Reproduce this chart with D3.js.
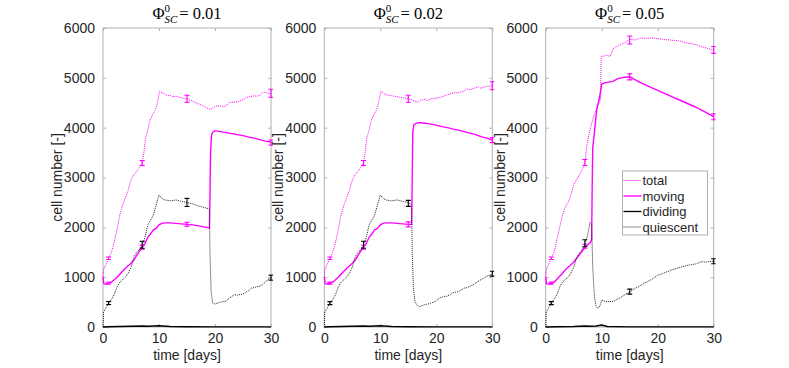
<!DOCTYPE html>
<html>
<head>
<meta charset="utf-8">
<script src="https://cdn.jsdelivr.net/npm/d3@7"></script>
<style>
  body { margin: 0; background: #fff; }
  svg { display: block; }
  text { font-family: "Liberation Sans", Arial, sans-serif; fill: #262626; }
</style>
</head>
<body>
<div id="chart"></div>
<script>
// values, [time in days, cell number]
var phiLabels = ["0.01", "0.02", "0.05"];
var xTicks = [0, 10, 20, 30];
var yTicks = [0, 1000, 2000, 3000, 4000, 5000, 6000];
var seriesNames = ["total", "moving", "dividing", "quiescent"];

var earlyTotal = [[0,1000],[0.1,1150],[0.5,1250],[1,1380],[1.5,1500],[2,1700],[2.5,1950],[3,2250],[3.5,2450],[4,2600],[4.5,2750],[5,2950],[5.5,3050],[6,3120],[6.5,3200],[7,3290],[7.3,3500],[7.6,3800],[8,3950],[8.4,4150],[8.8,4250],[9.3,4350],[9.6,4450],[10.1,4730]];
var earlyMoving = [[0,1000],[0.15,870],[0.5,860],[1,880],[1.5,900],[2,950],[2.5,1000],[3,1060],[3.5,1120],[4,1180],[4.5,1230],[5,1280],[5.5,1340],[6,1430],[6.5,1520],[7,1600],[7.5,1680],[8,1800],[8.5,1870],[9,1950],[9.5,1980],[10,2050],[10.5,2080],[11,2090],[12,2090],[13,2080],[14,2070],[15,2060]];
var earlyQuiesc = [[0,0],[0.1,300],[0.5,380],[1,480],[1.5,550],[2,650],[2.5,800],[3,900],[3.5,950],[4,1000],[4.5,1080],[5,1200],[5.5,1400],[6,1500],[6.5,1550],[7,1650],[7.5,1800],[8,2050],[8.5,2150],[9,2250],[9.5,2450],[10,2650],[10.5,2580],[11,2550],[12,2530],[13,2550],[14,2520],[15,2500]];

var total1 = earlyTotal.concat([[10.5,4700],[11,4680],[11.5,4640],[12,4650],[12.5,4620],[13,4630],[14,4600],[15,4580],[16,4530],[17,4480],[18,4430],[19,4370],[19.5,4380],[20,4430],[21,4440],[21.5,4420],[22,4440],[22.5,4500],[23,4510],[24,4520],[25,4560],[25.5,4600],[26,4620],[27,4640],[27.5,4630],[28,4650],[28.5,4700],[29,4710],[29.5,4680],[30,4690]]);
var moving1 = earlyMoving.concat([[16,2050],[17,2030],[18,2010],[19,1990],[19.1,2600],[19.2,3500],[19.4,3870],[19.7,3920],[20,3940],[21,3920],[22,3900],[23,3880],[24,3860],[25,3840],[26,3810],[27,3790],[28,3760],[29,3730],[30,3710]]);
var quiesc1 = earlyQuiesc.concat([[16,2470],[17,2430],[18,2400],[19,2370],[19.1,1500],[19.3,700],[19.6,480],[20,460],[20.5,480],[21,500],[21.5,510],[22,520],[22.5,580],[23,610],[23.5,650],[24,640],[25,660],[25.5,700],[26,730],[26.5,780],[27,790],[27.5,810],[28,820],[28.5,850],[29,900],[29.5,960],[30,990]]);
var dividing1 = [[0,0],[1,5],[3,10],[5,15],[7,20],[8,15],[10,25],[12,10],[15,5],[20,3],[25,2],[30,2]];

var total2 = earlyTotal.concat([[10.5,4700],[11,4660],[12,4640],[13,4620],[14,4600],[15,4580],[15.5,4560],[16,4540],[16.7,4510],[17.2,4550],[18,4570],[18.5,4540],[19,4580],[20,4590],[21,4620],[22,4660],[23,4700],[24,4700],[25,4740],[25.5,4780],[26,4760],[27,4800],[27.5,4820],[28,4790],[29,4830],[30,4840]]);
var moving2 = earlyMoving.concat([[15.6,2060],[15.7,3000],[15.8,3900],[16,4060],[16.5,4090],[17,4100],[18,4090],[19,4070],[20,4050],[21,4020],[22,4000],[23,3970],[24,3950],[25,3920],[26,3890],[27,3860],[28,3820],[29,3790],[30,3750]]);
var quiesc2 = earlyQuiesc.concat([[15.6,2440],[15.7,1500],[15.9,800],[16.2,500],[16.6,430],[17,410],[17.5,430],[18,450],[18.5,460],[19,480],[19.5,500],[20,520],[20.5,580],[21,600],[21.5,610],[22,620],[22.5,650],[23,690],[23.5,700],[24,710],[24.5,750],[25,780],[25.5,790],[26,820],[26.5,840],[27,880],[27.5,920],[28,950],[28.5,980],[29,1020],[29.5,1040],[30,1060]]);
var dividing2 = [[0,0],[1,5],[3,10],[5,15],[7,20],[8,15],[10,25],[12,10],[15,5],[20,3],[25,2],[30,2]];

var total3 = [[0,1000],[0.1,1150],[0.5,1250],[1,1380],[1.5,1500],[2,1750],[2.5,2000],[3,2250],[3.5,2400],[4,2500],[4.5,2650],[5,2850],[5.5,2950],[6,3050],[6.5,3150],[7,3300],[7.3,3600],[7.6,3800],[8,4000],[8.5,4200],[9,4350],[9.5,4500],[9.8,4560],[9.9,5430],[10.5,5440],[11,5450],[11.5,5430],[12,5580],[12.5,5620],[13,5640],[14,5700],[15,5770],[16,5760],[17,5800],[18,5790],[19,5800],[20,5790],[21,5770],[22,5760],[23,5750],[24,5740],[25,5700],[26,5690],[27,5660],[28,5620],[29,5590],[30,5550]];
var moving3 = [[0,1000],[0.15,870],[0.5,860],[1,880],[1.5,900],[2,960],[2.5,1020],[3,1080],[3.5,1150],[4,1200],[4.5,1250],[5,1300],[5.5,1380],[6,1450],[6.5,1520],[7,1600],[7.5,1650],[8,1700],[8.2,1750],[8.3,2800],[8.4,3600],[8.7,3900],[9.1,4350],[9.6,4600],[10,4870],[10.5,4900],[11,4910],[12,4930],[13,4990],[14,5010],[15,5020],[16,4960],[17,4900],[18,4850],[19,4800],[20,4750],[21,4700],[22,4650],[23,4600],[24,4550],[25,4500],[26,4450],[27,4400],[28,4340],[29,4280],[30,4220]];
var quiesc3 = [[0,0],[0.1,300],[0.5,380],[1,480],[1.5,550],[2,650],[2.5,800],[3,900],[3.5,950],[4,1000],[4.5,1080],[5,1200],[5.5,1380],[6,1480],[6.5,1550],[7,1650],[7.5,1850],[7.9,2100],[8.2,2050],[8.4,1200],[8.7,600],[9,420],[9.3,370],[9.6,400],[10,540],[10.5,520],[11,510],[12,510],[12.5,540],[13,570],[13.5,600],[14,640],[15,700],[15.5,740],[16,780],[16.5,800],[17,840],[17.5,880],[18,900],[18.5,930],[19,960],[19.5,1000],[20,1040],[20.5,1050],[21,1080],[21.5,1100],[22,1120],[22.5,1150],[23,1160],[23.5,1180],[24,1200],[24.5,1210],[25,1230],[25.5,1240],[26,1250],[27,1270],[27.5,1300],[28,1310],[28.5,1300],[29,1310],[30,1320]];
var dividing3 = [[0,0],[2,5],[5,10],[7,20],[8,15],[9,20],[10,40],[11,10],[15,3],[20,2],[30,1]];

// error bars: [time, mean, half width]
var errTotal1 = [[1,1380,25],[7,3290,50],[15,4580,70],[30,4690,80]];
var errMoving1 = [[1,880,20],[7,1600,40],[15,2060,40],[30,3700,50]];
var errQuiesc1 = [[1,480,30],[7,1650,70],[15,2500,80],[30,990,50]];
var errTotal2 = [[1,1380,25],[7,3290,50],[15,4580,70],[30,4840,80]];
var errMoving2 = [[1,880,20],[7,1600,40],[15,2060,50],[30,3750,50]];
var errQuiesc2 = [[1,480,30],[7,1650,70],[15,2480,60],[30,1070,50]];
var errTotal3 = [[1,1380,25],[7,3300,60],[15,5760,80],[30,5560,70]];
var errMoving3 = [[1,880,20],[7,1620,40],[15,5020,60],[30,4220,60]];
var errQuiesc3 = [[1,480,30],[7,1680,70],[15,710,50],[30,1320,50]];

var panels = [
  {phi: phiLabels[0], total: total1, moving: moving1, dividing: dividing1, quiesc: quiesc1, eT: errTotal1, eM: errMoving1, eQ: errQuiesc1},
  {phi: phiLabels[1], total: total2, moving: moving2, dividing: dividing2, quiesc: quiesc2, eT: errTotal2, eM: errMoving2, eQ: errQuiesc2},
  {phi: phiLabels[2], total: total3, moving: moving3, dividing: dividing3, quiesc: quiesc3, eT: errTotal3, eM: errMoving3, eQ: errQuiesc3}
];

var W = 789, H = 368;
var plotW = 168, plotTop = 28, plotBottom = 327;
var lefts = [103, 324.3, 545.7];
var MAG = "#ff00ff", FRAME = "#b0b0b0";

var svg = d3.select("#chart").append("svg").attr("width", W).attr("height", H);

var y = d3.scaleLinear().domain([0, 6000]).range([plotBottom, plotTop]);

panels.forEach(function(p, i) {
  var x = d3.scaleLinear().domain([0, 30]).range([lefts[i], lefts[i] + plotW]);
  var g = svg.append("g");

  // frame + inward ticks
  g.append("rect").attr("x", x(0)).attr("y", y(6000))
    .attr("width", x(30) - x(0)).attr("height", y(0) - y(6000))
    .attr("fill", "none").attr("stroke", FRAME).attr("stroke-width", 1);

  var xb = g.append("g").attr("transform", "translate(0," + plotBottom + ")")
    .call(d3.axisBottom(x).tickValues(xTicks).tickSize(-3).tickPadding(6).tickFormat(d3.format("d")));
  var xt = g.append("g").attr("transform", "translate(0," + plotTop + ")")
    .call(d3.axisTop(x).tickValues(xTicks).tickSize(-3).tickFormat(""));
  var yl = g.append("g").attr("transform", "translate(" + x(0) + ",0)")
    .call(d3.axisLeft(y).tickValues(yTicks).tickSize(-3).tickPadding(8).tickFormat(d3.format("d")));
  var yr = g.append("g").attr("transform", "translate(" + x(30) + ",0)")
    .call(d3.axisRight(y).tickValues(yTicks).tickSize(-3).tickFormat(""));
  [xb, xt, yl, yr].forEach(function(a) {
    a.select(".domain").remove();
    a.selectAll(".tick line").attr("stroke", FRAME);
    a.selectAll("text").style("font-size", "14px")
      .style("font-family", '"Liberation Sans", Arial, sans-serif').attr("fill", "#262626");
  });

  // axis labels
  g.append("text").attr("x", (x(0) + x(30)) / 2).attr("y", 360)
    .attr("text-anchor", "middle").style("font-size", "14px").text("time [days]");
  g.append("text")
    .attr("transform", "translate(" + (x(0) - 41) + "," + ((plotTop + plotBottom) / 2) + ") rotate(-90)")
    .attr("text-anchor", "middle").style("font-size", "14px").text("cell number [-]");

  // title  Φ^0_SC = value
  var t = g.append("text").attr("x", (x(0) + x(30)) / 2).attr("y", 19)
    .attr("text-anchor", "middle")
    .style("font-family", '"Liberation Serif", "DejaVu Serif", serif')
    .style("font-size", "16.5px").style("fill", "#000");
  t.append("tspan").text("Φ");
  t.append("tspan").attr("dy", -7).style("font-size", "11px").text("0");
  t.append("tspan").attr("dx", -5.5).attr("dy", 11).style("font-size", "11px").style("font-style", "italic").text("SC");
  t.append("tspan").attr("dx", 2).attr("dy", -4).text("= " + p.phi);

  var line = d3.line().x(function(d) { return x(d[0]); }).y(function(d) { return y(d[1]); });

  var clip = "clip" + i;
  svg.append("clipPath").attr("id", clip).append("rect")
    .attr("x", x(0) - 2).attr("y", plotTop - 4).attr("width", plotW + 4).attr("height", plotBottom - plotTop + 6);
  var lg = g.append("g").attr("clip-path", "url(#" + clip + ")");

  lg.append("path").attr("d", line(p.total)).attr("fill", "none")
    .attr("stroke", MAG).attr("stroke-width", 1).attr("stroke-dasharray", "1,1");
  lg.append("path").attr("d", line(p.moving)).attr("fill", "none")
    .attr("stroke", MAG).attr("stroke-width", 1.4);
  lg.append("path").attr("d", line(p.dividing)).attr("fill", "none")
    .attr("stroke", "#000").attr("stroke-width", 1.3);
  lg.append("path").attr("d", line(p.quiesc)).attr("fill", "none")
    .attr("stroke", "#222").attr("stroke-width", 1).attr("stroke-dasharray", "1,1");

  function errBars(data, color) {
    var eb = lg.append("g").attr("stroke", color).attr("stroke-width", 1.1);
    data.forEach(function(d) {
      var cx = x(d[0]), y1 = y(d[1] - d[2]), y2 = y(d[1] + d[2]);
      eb.append("line").attr("x1", cx).attr("x2", cx).attr("y1", y1).attr("y2", y2);
      eb.append("line").attr("x1", cx - 2.5).attr("x2", cx + 2.5).attr("y1", y1).attr("y2", y1);
      eb.append("line").attr("x1", cx - 2.5).attr("x2", cx + 2.5).attr("y1", y2).attr("y2", y2);
    });
  }
  errBars(p.eT, MAG);
  errBars(p.eM, MAG);
  errBars(p.eQ, "#000");
});

// legend in the third panel
var legX = 622.5, legY = 171, legW = 85, legH = 64;
var leg = svg.append("g");
leg.append("rect").attr("x", legX).attr("y", legY).attr("width", legW).attr("height", legH)
  .attr("fill", "#fff").attr("stroke", FRAME);
var legStyles = [
  {c: MAG, w: 1, dash: "1,1"},
  {c: MAG, w: 1.4, dash: null},
  {c: "#000", w: 1.3, dash: null},
  {c: "#222", w: 1, dash: "1,1"}
];
seriesNames.forEach(function(name, k) {
  var ry = legY + 9.5 + k * 15.5;
  leg.append("line").attr("x1", legX + 1).attr("x2", legX + 19).attr("y1", ry).attr("y2", ry)
    .attr("stroke", legStyles[k].c).attr("stroke-width", legStyles[k].w)
    .attr("stroke-dasharray", legStyles[k].dash);
  leg.append("text").attr("x", legX + 20).attr("y", ry + 4.5)
    .style("font-size", "13px").text(name);
});
</script>
</body>
</html>
